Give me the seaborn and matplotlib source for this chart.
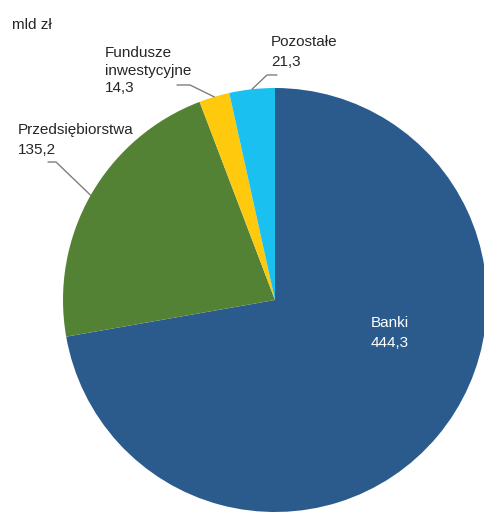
import matplotlib
matplotlib.use("Agg")
import matplotlib.pyplot as plt
import seaborn as sns
import numpy as np

sns.set_theme(style="white")
plt.rcParams['font.family'] = ['Liberation Sans', 'DejaVu Sans']

categories = ["Banki", "Przedsiębiorstwa", "Fundusze\ninwestycyjne", "Pozostałe"]
values = [444.3, 135.2, 14.3, 21.3]
value_labels = ["444,3", "135,2", "14,3", "21,3"]
colors = ["#2B5A8C", "#548235", "#FFC90E", "#1AC0F0"]

W, H = 485, 512
CX, CY, R = 275, 300, 212

fig = plt.figure(figsize=(W / 100, H / 100), dpi=100)
ax = fig.add_axes([0, 0, 1, 1])

wedges, _ = ax.pie(values, colors=colors, startangle=90, counterclock=False,
                   radius=1, center=(0, 0),
                   wedgeprops=dict(linewidth=0))
ax.set_xlim(-CX / R, (W - CX) / R)
ax.set_ylim(-(H - CY) / R, CY / R)
ax.set_aspect('equal')
ax.axis('off')


def p2d(px, py):
    return (px - CX) / R, (CY - py) / R


def mid_point(w):
    a = np.deg2rad((w.theta1 + w.theta2) / 2)
    return np.cos(a), np.sin(a)

txt_color = "#262626"
fs = 11


def lines_at(px, baselines, lines, ha='left', color=txt_color):
    for b, t in zip(baselines, lines):
        x, y = p2d(px, b)
        ax.text(x, y, t, fontsize=fs, color=color, ha=ha, va='baseline')

lines_at(12, [29], ["mld zł"])
lines_at(390, [327, 347], [categories[0], value_labels[0]], ha='center', color='white')
lines_at(18, [134, 154], [categories[1], value_labels[1]])
lines_at(105, [57, 74.5, 92], categories[2].split("\n") + [value_labels[2]])
lines_at(271, [46, 66], [categories[3], value_labels[3]])

line_color = "#7F7F7F"
leaders = {1: [(48, 162), (56, 162)], 2: [(177, 85), (190, 85)], 3: [(277, 75), (267, 75)]}
for i, pts in leaders.items():
    mx, my = mid_point(wedges[i])
    a1 = p2d(*pts[0]); a2 = p2d(*pts[1])
    ax.plot([a1[0], a2[0], mx], [a1[1], a2[1], my], color=line_color, lw=1)

fig.savefig("out.png", dpi=100, facecolor="white")
